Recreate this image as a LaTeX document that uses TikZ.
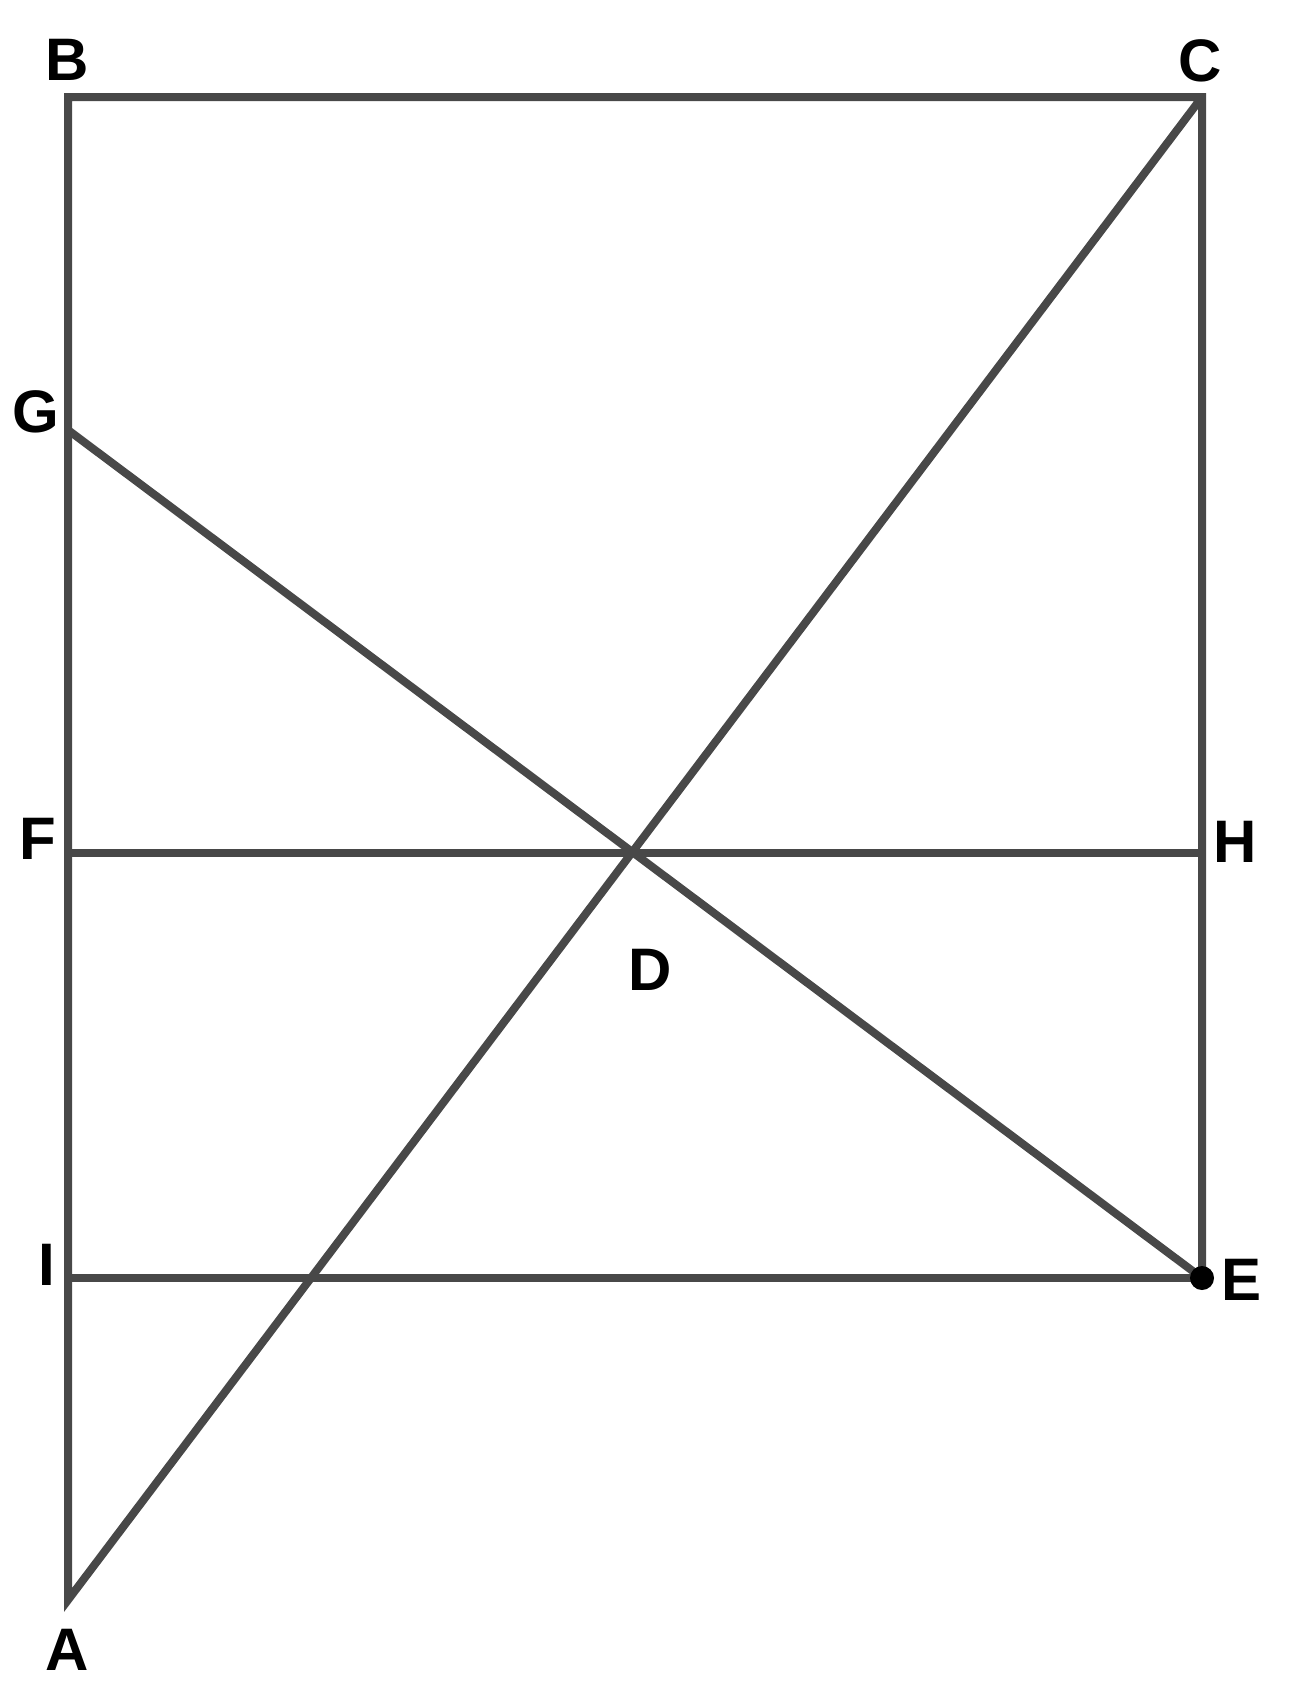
\documentclass[tikz,border=0pt]{standalone}
\usepackage{fontspec}
\setmainfont{Liberation Sans}
\definecolor{linegray}{RGB}{72,72,72}
\begin{document}
\begin{tikzpicture}[x=1pt,y=-1pt,
  seg/.style={draw=linegray,line width=8pt,line join=miter},
  lbl/.style={inner sep=0pt,anchor=center,font=\fontsize{60}{60}\selectfont\bfseries,text=black}]
\useasboundingbox[fill=white] (0,0) rectangle (1290,1702);
\coordinate (B) at (68,97);
\coordinate (C) at (1202,97);
\coordinate (A) at (68,1600);
\coordinate (G) at (68,430);
\coordinate (F) at (68,852.5);
\coordinate (H) at (1202,852.5);
\coordinate (I) at (68,1278);
\coordinate (E) at (1202,1278);
\coordinate (D) at (634,852.5);
\draw[seg] (C) -- (A) -- (B) -- (C) -- (E);
\draw[seg] (G) -- (E);
\draw[seg] (F) -- (H);
\draw[seg] (I) -- (E);
\fill[black] (E) circle (12pt);
\node[lbl] (lB) at (66.7,60) {B};
\node[lbl] (lC) at (1200,61) {C};
\node[lbl] (lA) at (66.7,1650) {A};
\node[lbl] (lG) at (36,412) {G};
\node[lbl] (lF) at (38,839) {F};
\node[lbl] (lH) at (1235,842) {H};
\node[lbl] (lI) at (46.7,1265) {I};
\node[lbl] (lE) at (1241,1280) {E};
\node[lbl] (lD) at (650,970) {D};
\end{tikzpicture}
\end{document}
